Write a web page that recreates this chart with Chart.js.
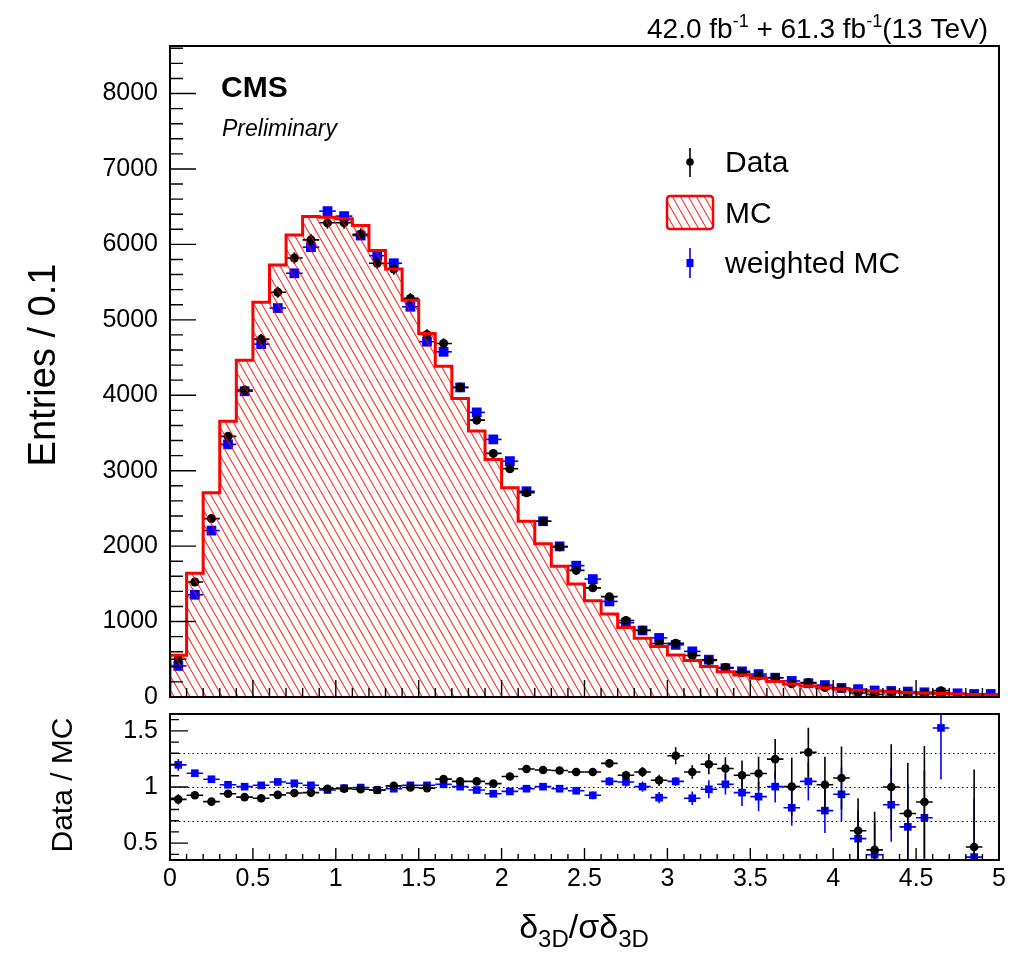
<!DOCTYPE html>
<html>
<head>
<meta charset="utf-8">
<script src="https://cdn.jsdelivr.net/npm/chart.js@4.4.1/dist/chart.umd.min.js"></script>
<style>
  html, body { margin: 0; padding: 0; background: #fff; }
  #wrap { position: relative; width: 1012px; height: 954px; overflow: hidden; }
  canvas { position: absolute; left: 0; top: 0; }
</style>
</head>
<body>
<div id="wrap">
  <canvas id="main" width="1012" height="954"></canvas>
  <canvas id="ratio" width="1012" height="954"></canvas>
</div>
<script>
const FONT = '"Liberation Sans", Arial, Helvetica, sans-serif';

// bins of delta_3D / sigma, width 0.1
const binCenters = [
  0.05, 0.15, 0.25, 0.35, 0.45, 0.55, 0.65, 0.75, 0.85, 0.95,
  1.05, 1.15, 1.25, 1.35, 1.45, 1.55, 1.65, 1.75, 1.85, 1.95,
  2.05, 2.15, 2.25, 2.35, 2.45, 2.55, 2.65, 2.75, 2.85, 2.95,
  3.05, 3.15, 3.25, 3.35, 3.45, 3.55, 3.65, 3.75, 3.85, 3.95,
  4.05, 4.15, 4.25, 4.35, 4.45, 4.55, 4.65, 4.75, 4.85, 4.95
];
const mcCounts = [
  555, 1640, 2707, 3655, 4465, 5232, 5728, 6126, 6370, 6360,
  6340, 6250, 5918, 5674, 5261, 4820, 4386, 3958, 3526, 3150,
  2773, 2330, 2033, 1732, 1498, 1276, 1099, 921, 780, 669,
  558, 485, 403, 336, 292, 248, 204, 173, 146, 124,
  105, 88, 78, 68, 60, 52, 45, 40, 33, 30
];
const dataCounts = [
  501, 1524, 2365, 3455, 4070, 4744, 5365, 5820, 6060, 6286,
  6286, 6135, 5750, 5674, 5284, 4807, 4687, 4104, 3671, 3229,
  3026, 2707, 2330, 1990, 1678, 1447, 1330, 1015, 885, 709,
  713, 550, 485, 391, 323, 278, 255, 174, 191, 126,
  112, 54, 34, 68, 46, 45, 84, 0, 15, 0
];
const dataErr = [
  22, 39, 49, 59, 64, 69, 73, 76, 78, 79,
  79, 78, 76, 75, 73, 69, 68, 64, 61, 57,
  55, 52, 48, 45, 41, 38, 36, 32, 30, 27,
  27, 23, 22, 20, 18, 17, 16, 13, 14, 11,
  11, 7, 6, 8, 7, 7, 9, 0, 4, 0
];
const weightedCounts = [
  412, 1355, 2206, 3349, 4053, 4678, 5156, 5617, 5963, 6441,
  6375, 6117, 5851, 5750, 5173, 4710, 4576, 4104, 3773, 3415,
  3127, 2728, 2330, 1997, 1741, 1563, 1267, 985, 882, 783,
  691, 605, 495, 382, 340, 304, 256, 213, 182, 158,
  120, 104, 86, 80, 72, 62, 57, 49, 40, 40
];
// lower panel: black = Data / MC, blue = Data / weighted MC
const ratioData = [
  0.89, 0.926, 0.87, 0.94, 0.91, 0.90, 0.93, 0.946, 0.95, 0.985,
  0.985, 0.98, 0.973, 1.01, 0.995, 0.99, 1.07, 1.05, 1.05, 1.03,
  1.093, 1.16, 1.152, 1.147, 1.134, 1.134, 1.21, 1.105, 1.134, 1.06,
  1.278, 1.134, 1.203, 1.165, 1.105, 1.12, 1.248, 1.003, 1.308, 1.02,
  1.08, 0.61, 0.44, 1.0, 0.764, 0.866, null, null, 0.466, null
];
const ratioDataErr = [
  0.045, 0.025, 0.02, 0.017, 0.015, 0.014, 0.013, 0.013, 0.013, 0.013,
  0.013, 0.013, 0.014, 0.014, 0.015, 0.016, 0.017, 0.018, 0.019, 0.02,
  0.022, 0.024, 0.026, 0.028, 0.03, 0.033, 0.036, 0.04, 0.045, 0.05,
  0.075, 0.06, 0.09, 0.1, 0.13, 0.15, 0.18, 0.26, 0.22, 0.25,
  0.28, 0.29, 0.34, 0.38, 0.45, 0.5, 0, 0, 0.69, 0
];
const ratioWeighted = [
  1.197, 1.123, 1.069, 1.02, 1.003, 1.015, 1.045, 1.033, 1.015, 0.973,
  0.99, 0.995, 0.973, 0.985, 1.015, 1.015, 1.024, 1.003, 0.973, 0.94,
  0.961, 0.985, 1.003, 0.985, 0.967, 0.926, 1.05, 1.045, 1.003, 0.905,
  1.05, 0.90, 0.98, 1.024, 0.95, 0.914, 1.003, 0.815, 1.05, 0.79,
  0.935, 0.54, 0.397, 0.842, 0.645, 0.726, 1.526, null, 0.376, null
];
const ratioWeightedErr = [
  0.052, 0.028, 0.022, 0.018, 0.016, 0.015, 0.014, 0.014, 0.014, 0.014,
  0.014, 0.014, 0.015, 0.015, 0.016, 0.017, 0.018, 0.019, 0.02, 0.021,
  0.023, 0.025, 0.027, 0.03, 0.032, 0.035, 0.038, 0.042, 0.046, 0.05,
  0.04, 0.06, 0.08, 0.09, 0.12, 0.13, 0.14, 0.16, 0.17, 0.2,
  0.24, 0.25, 0.3, 0.33, 0.38, 0.42, 0.46, 0, 0.52, 0
];

const mainYTicks = [0, 1000, 2000, 3000, 4000, 5000, 6000, 7000, 8000];
const ratioYTicks = [0.5, 1, 1.5];
const xTicks = [0, 0.5, 1, 1.5, 2, 2.5, 3, 3.5, 4, 4.5, 5];
const refLines = [0.7, 1, 1.3];

const X_MIN = 0, X_MAX = 5, BIN_HALF = 0.05;

function hatchPattern(ctx) {
  const tile = document.createElement('canvas');
  tile.width = 8;
  tile.height = 14;
  const t = tile.getContext('2d');
  t.strokeStyle = 'rgba(255,0,0,0.85)';
  t.lineWidth = 1.1;
  [-8, 0, 8].forEach((dx) => {
    t.beginPath();
    t.moveTo(dx, 0);
    t.lineTo(dx + 8, 14);
    t.stroke();
  });
  return ctx.createPattern(tile, 'repeat');
}

// ROOT-like error bars, drawn right before each dataset's markers
const errorBars = {
  id: 'errorBars',
  beforeDatasetDraw(chart, args) {
    const ds = chart.data.datasets[args.index];
    if (!ds.errY) {
      return;
    }
    const { ctx, chartArea: a, scales: { x, y } } = chart;
    ctx.save();
    ctx.beginPath();
    ctx.rect(a.left, a.top, a.right - a.left, a.bottom - a.top);
    ctx.clip();
    ctx.strokeStyle = ds.errColor;
    ctx.lineWidth = 1.6;
    ds.data.forEach((p, i) => {
      if (p.y == null) {
        return;
      }
      const px = x.getPixelForValue(p.x);
      const py = y.getPixelForValue(p.y);
      const e = ds.errY[i] || 0;
      ctx.beginPath();
      ctx.moveTo(x.getPixelForValue(p.x - BIN_HALF), py);
      ctx.lineTo(x.getPixelForValue(p.x + BIN_HALF), py);
      if (e > 0) {
        ctx.moveTo(px, y.getPixelForValue(p.y - e));
        ctx.lineTo(px, y.getPixelForValue(p.y + e));
      }
      ctx.stroke();
    });
    ctx.restore();
  },
};

// frame and inward ticks
const rootFrame = {
  id: 'rootFrame',
  beforeDatasetsDraw(chart, args, o) {
    if (!o.refLines) {
      return;
    }
    const { ctx, chartArea: a, scales: { y } } = chart;
    ctx.save();
    ctx.strokeStyle = '#000';
    ctx.lineWidth = 1.2;
    ctx.setLineDash([1.5, 3]);
    o.refLines.forEach((v) => {
      const py = Math.round(y.getPixelForValue(v)) + 0.5;
      ctx.beginPath();
      ctx.moveTo(a.left, py);
      ctx.lineTo(a.right, py);
      ctx.stroke();
    });
    ctx.restore();
  },
  afterDatasetsDraw(chart, args, o) {
    const { ctx, chartArea: a, scales: { x, y } } = chart;
    ctx.save();
    ctx.strokeStyle = '#000';
    ctx.lineWidth = 1.4;
    ctx.beginPath();
    const nx = Math.round((x.max - x.min) / o.xMinor);
    for (let k = 0; k <= nx; k++) {
      const v = x.min + k * o.xMinor;
      const major = Math.abs(v / o.xMajor - Math.round(v / o.xMajor)) < 1e-6;
      const px = x.getPixelForValue(v);
      ctx.moveTo(px, a.bottom);
      ctx.lineTo(px, a.bottom - (major ? o.xMajorLen : o.xMinorLen));
    }
    const y0 = Math.ceil(y.min / o.yMinor - 1e-6) * o.yMinor;
    const ny = Math.floor((y.max - y0) / o.yMinor + 1e-6);
    for (let k = 0; k <= ny; k++) {
      const v = y0 + k * o.yMinor;
      const major = Math.abs(v / o.yMajor - Math.round(v / o.yMajor)) < 1e-6;
      const py = y.getPixelForValue(v);
      ctx.moveTo(a.left, py);
      ctx.lineTo(a.left + (major ? o.yMajorLen : o.yMinorLen), py);
    }
    ctx.stroke();
    ctx.lineWidth = 2;
    ctx.strokeRect(a.left, a.top, a.right - a.left, a.bottom - a.top);
    ctx.restore();
  },
};

function drawRuns(ctx, runs, x, y, align) {
  let total = 0;
  runs.forEach((r) => {
    ctx.font = (r.style || '') + ' ' + r.size + 'px ' + FONT;
    r.w = ctx.measureText(r.t).width;
    total += r.w;
  });
  let cx = align === 'right' ? x - total : align === 'center' ? x - total / 2 : x;
  runs.forEach((r) => {
    ctx.font = (r.style || '') + ' ' + r.size + 'px ' + FONT;
    ctx.fillText(r.t, cx, y + (r.dy || 0));
    cx += r.w;
  });
}

const mainText = {
  id: 'mainText',
  afterDraw(chart) {
    const ctx = chart.ctx;
    ctx.save();
    ctx.fillStyle = '#000';
    ctx.textAlign = 'left';
    ctx.textBaseline = 'alphabetic';

    drawRuns(ctx, [
      { t: '42.0 fb', size: 28 },
      { t: '-1', size: 18, dy: -11 },
      { t: ' + 61.3 fb', size: 28 },
      { t: '-1', size: 18, dy: -11 },
      { t: '(13 TeV)', size: 28 },
    ], 988, 38, 'right');

    ctx.font = 'bold 30px ' + FONT;
    ctx.fillText('CMS', 221, 97);
    ctx.font = 'italic 23px ' + FONT;
    ctx.fillText('Preliminary', 222, 136);

    // legend
    ctx.font = '30px ' + FONT;
    ctx.fillText('Data', 725, 172);
    ctx.fillText('MC', 725, 223);
    ctx.fillText('weighted MC', 725, 273);

    ctx.strokeStyle = '#000';
    ctx.lineWidth = 1.6;
    ctx.beginPath();
    ctx.moveTo(690, 148);
    ctx.lineTo(690, 177);
    ctx.stroke();
    ctx.beginPath();
    ctx.arc(690, 162, 3.8, 0, Math.PI * 2);
    ctx.fill();

    ctx.fillStyle = hatchPattern(ctx);
    ctx.strokeStyle = '#ff0000';
    ctx.lineWidth = 2.5;
    ctx.beginPath();
    ctx.roundRect(667, 196, 46, 33, 3);
    ctx.fill();
    ctx.stroke();

    ctx.fillStyle = '#0000ff';
    ctx.strokeStyle = '#0000ff';
    ctx.lineWidth = 1.6;
    ctx.beginPath();
    ctx.moveTo(690, 248);
    ctx.lineTo(690, 278);
    ctx.stroke();
    ctx.fillRect(686.5, 259, 7, 8);

    // axis titles
    ctx.fillStyle = '#000';
    ctx.save();
    ctx.translate(55, 365);
    ctx.rotate(-Math.PI / 2);
    ctx.textAlign = 'center';
    ctx.font = '38px ' + FONT;
    ctx.fillText('Entries / 0.1', 0, 0);
    ctx.restore();

    ctx.save();
    ctx.translate(72, 785);
    ctx.rotate(-Math.PI / 2);
    ctx.textAlign = 'center';
    ctx.font = '30px ' + FONT;
    ctx.fillText('Data / MC', 0, 0);
    ctx.restore();

    drawRuns(ctx, [
      { t: '\u03b4', size: 34 },
      { t: '3D', size: 24, dy: 9 },
      { t: '/\u03c3\u03b4', size: 34 },
      { t: '3D', size: 24, dy: 9 },
    ], 584, 938, 'center');
    ctx.restore();
  },
};

const mainCtx = document.getElementById('main').getContext('2d');
const histPoints = [{ x: X_MIN, y: 0 }, { x: X_MIN, y: mcCounts[0] }]
  .concat(binCenters.map((x, i) => ({ x, y: mcCounts[i] })))
  .concat([{ x: X_MAX, y: mcCounts[mcCounts.length - 1] }]);

const noGrid = { display: false, drawTicks: false, tickLength: 0 };

new Chart(mainCtx, {
  type: 'scatter',
  data: {
    datasets: [
      {
        type: 'line',
        label: 'MC',
        data: histPoints,
        stepped: 'middle',
        borderColor: '#ff0000',
        borderWidth: 3,
        borderJoinStyle: 'miter',
        backgroundColor: hatchPattern(mainCtx),
        fill: 'origin',
        pointRadius: 0,
      },
      {
        label: 'Data',
        data: binCenters.map((x, i) => ({ x, y: dataCounts[i] })),
        pointStyle: 'circle',
        pointRadius: 4.5,
        pointBorderWidth: 0,
        backgroundColor: '#000',
        borderColor: '#000',
        errY: dataErr,
        errColor: '#000',
      },
      {
        label: 'weighted MC',
        data: binCenters.map((x, i) => ({ x, y: weightedCounts[i] })),
        pointStyle: 'rect',
        pointRadius: 6.9,
        pointBorderWidth: 0,
        backgroundColor: '#0000ff',
        borderColor: '#0000ff',
        errY: [],
        errColor: '#0000ff',
      },
    ],
  },
  options: {
    responsive: false,
    animation: false,
    events: [],
    layout: { padding: { top: 46, right: 13, bottom: 257, left: 0 } },
    plugins: {
      legend: { display: false },
      tooltip: { enabled: false },
      rootFrame: {
        xMinor: 0.1, xMajor: 0.5, xMajorLen: 17, xMinorLen: 9,
        yMinor: 200, yMajor: 1000, yMajorLen: 26, yMinorLen: 13,
      },
    },
    scales: {
      x: { type: 'linear', min: X_MIN, max: X_MAX, display: false },
      y: {
        type: 'linear',
        min: 0,
        max: 8630,
        grid: noGrid,
        border: { display: false },
        ticks: {
          font: { family: FONT, size: 25 },
          color: '#000',
          padding: 12,
          callback: (v) => String(v),
        },
        afterBuildTicks: (s) => { s.ticks = mainYTicks.map((v) => ({ value: v })); },
        afterFit: (s) => { s.width = 170; s.paddingTop = 0; s.paddingBottom = 0; },
      },
    },
  },
  plugins: [errorBars, rootFrame, mainText],
});

new Chart(document.getElementById('ratio'), {
  type: 'scatter',
  data: {
    datasets: [
      {
        label: 'Data / MC',
        data: binCenters.map((x, i) => ({ x, y: ratioData[i] })),
        pointStyle: 'circle',
        pointRadius: 4.3,
        pointBorderWidth: 0,
        backgroundColor: '#000',
        borderColor: '#000',
        errY: ratioDataErr,
        errColor: '#000',
      },
      {
        label: 'Data / weighted MC',
        data: binCenters.map((x, i) => ({ x, y: ratioWeighted[i] })),
        pointStyle: 'rect',
        pointRadius: 5.4,
        pointBorderWidth: 0,
        backgroundColor: '#0000ff',
        borderColor: '#0000ff',
        errY: ratioWeightedErr,
        errColor: '#0000ff',
      },
    ],
  },
  options: {
    responsive: false,
    animation: false,
    events: [],
    layout: { padding: { top: 714, right: 13, bottom: 54, left: 0 } },
    plugins: {
      legend: { display: false },
      tooltip: { enabled: false },
      rootFrame: {
        refLines,
        xMinor: 0.1, xMajor: 0.5, xMajorLen: 12, xMinorLen: 6,
        yMinor: 0.1, yMajor: 0.5, yMajorLen: 18, yMinorLen: 9,
      },
    },
    scales: {
      x: {
        type: 'linear',
        min: X_MIN,
        max: X_MAX,
        grid: noGrid,
        border: { display: false },
        ticks: {
          font: { family: FONT, size: 25 },
          color: '#000',
          padding: 4,
          autoSkip: false,
          maxRotation: 0,
          minRotation: 0,
          callback: (v) => String(v),
        },
        afterBuildTicks: (s) => { s.ticks = xTicks.map((v) => ({ value: v })); },
        afterFit: (s) => { s.height = 40; s.paddingLeft = 0; s.paddingRight = 0; },
      },
      y: {
        type: 'linear',
        min: 0.35,
        max: 1.65,
        grid: noGrid,
        border: { display: false },
        ticks: {
          font: { family: FONT, size: 25 },
          color: '#000',
          padding: 12,
          callback: (v) => String(v),
        },
        afterBuildTicks: (s) => { s.ticks = ratioYTicks.map((v) => ({ value: v })); },
        afterFit: (s) => { s.width = 170; s.paddingTop = 0; s.paddingBottom = 0; },
      },
    },
  },
  plugins: [errorBars, rootFrame],
});
</script>
</body>
</html>
